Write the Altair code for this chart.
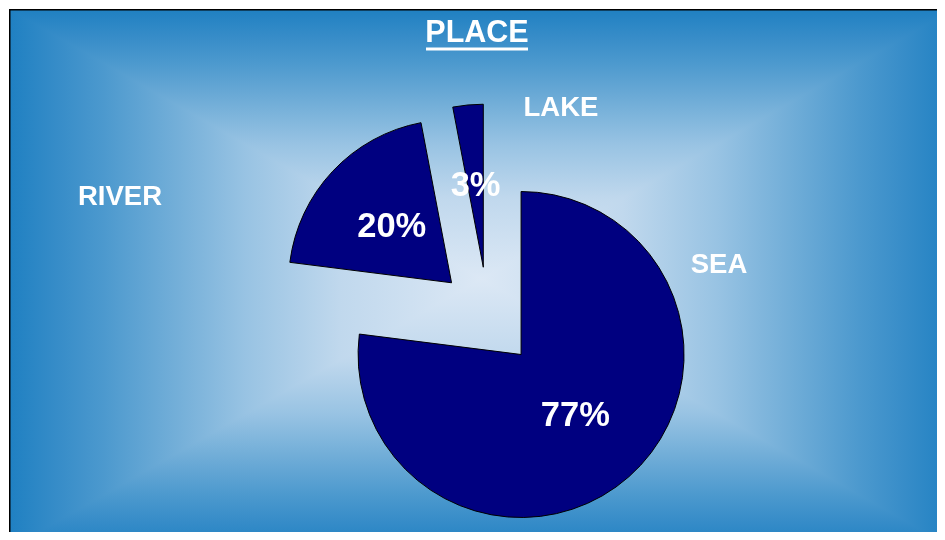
import altair as alt
import pandas as pd

# ---- data ----
categories = ["SEA", "RIVER", "LAKE"]
values = [77, 20, 3]
title_text = "PLACE"

# ---- style / layout ----
W, H = 929, 524
CX, CY = 479, 308          # pie centre before explosion (px)
R = 163                    # pie radius
EXPLODE = 50               # explosion distance
PCT_R = 82                 # radius of percentage labels
FONT = "Liberation Sans"
label_offsets = {"SEA": (231, -52), "RIVER": (-368, -120), "LAKE": (73, -209)}

CENTER = (220, 232, 245)
EDGE = (31, 128, 194)
alpha_stops = [(0.0, 1.0), (0.05, 0.88), (0.1, 0.76), (0.175, 0.56),
               (0.25, 0.36), (0.35, 0.15), (0.5, 0.0)]


def mix(a):
    r, g, b = (round(c0 + a * (e - c0)) for c0, e in zip(CENTER, EDGE))
    return f"rgb({r},{g},{b})"


stops = [{"offset": o, "color": mix(a)} for o, a in alpha_stops]
stops += [{"offset": 1 - o, "color": mix(a)} for o, a in reversed(alpha_stops[:-1])]

grad_h = {"gradient": "linear", "x1": 0, "y1": 0, "x2": 1, "y2": 0, "stops": stops}
grad_v = {"gradient": "linear", "x1": 0, "y1": 0, "x2": 0, "y2": 1, "stops": stops}

df = pd.DataFrame({
    "category": categories,
    "value": values,
    "idx": list(range(len(categories))),
    "ldx": [label_offsets[c][0] for c in categories],
    "ldy": [label_offsets[c][1] for c in categories],
})

one = pd.DataFrame({"t": [title_text]})

bg_h = alt.Chart(one).mark_rect(fill=grad_h).encode(
    x=alt.value(0), x2=alt.value(W + 16), y=alt.value(0), y2=alt.value(H + 16))
bg_v = alt.Chart(one).mark_rect(fill=grad_v, blend="darken").encode(
    x=alt.value(0), x2=alt.value(W + 16), y=alt.value(0), y2=alt.value(H + 16))

border_top = alt.Chart(one).mark_rule(color="black", strokeWidth=1.5).encode(
    x=alt.value(0), x2=alt.value(W), y=alt.value(0.75))
border_left = alt.Chart(one).mark_rule(color="black", strokeWidth=1.5).encode(
    x=alt.value(0.75), y=alt.value(0), y2=alt.value(H))

base = (
    alt.Chart(df)
    .transform_joinaggregate(total="sum(value)")
    .transform_window(cum="sum(value)", sort=[alt.SortField("idx", order="ascending")])
    .transform_calculate(t0="(datum.cum - datum.value) / datum.total * 2 * PI")
    .transform_calculate(t1="datum.cum / datum.total * 2 * PI")
    .transform_calculate(mid="(datum.t0 + datum.t1) / 2")
    .transform_calculate(ex=f"{CX} + {EXPLODE} * sin(datum.mid)")
    .transform_calculate(ey=f"{CY} - {EXPLODE} * cos(datum.mid)")
    .transform_calculate(px=f"datum.ex + {PCT_R} * sin(datum.mid)")
    .transform_calculate(py=f"datum.ey - {PCT_R} * cos(datum.mid)")
    .transform_calculate(pct="datum.value + '%'")
    .transform_calculate(lx=f"{CX} + datum.ldx")
    .transform_calculate(ly=f"{CY} + datum.ldy")
)

arcs = base.mark_arc(radius=R, fill="#000080", stroke="black", strokeWidth=1).encode(
    theta=alt.Theta("t0:Q", scale=None),
    theta2="t1:Q",
    x=alt.X("ex:Q", scale=None),
    y=alt.Y("ey:Q", scale=None),
)

pct = base.mark_text(font=FONT, fontSize=34.5, fontWeight="bold", color="white",
                     align="center", baseline="middle").encode(
    x=alt.X("px:Q", scale=None), y=alt.Y("py:Q", scale=None), text="pct:N")

labels = base.mark_text(font=FONT, fontSize=27.5, fontWeight="bold", color="white",
                        align="center", baseline="middle").encode(
    x=alt.X("lx:Q", scale=None), y=alt.Y("ly:Q", scale=None), text="category:N")

title = alt.Chart(one).mark_text(font=FONT, fontSize=30.5, fontWeight="bold", color="white",
                                 align="center", baseline="alphabetic").encode(
    x=alt.value(468), y=alt.value(33), text="t:N")

underline = alt.Chart(one).mark_rule(color="white", strokeWidth=3).encode(
    x=alt.value(417), x2=alt.value(519), y=alt.value(40))

chart = (
    alt.layer(bg_h, bg_v, arcs, pct, labels, title, underline, border_top, border_left)
    .properties(width=W, height=H, padding=0,
                autosize=alt.AutoSizeParams(type="fit", contains="padding"))
    .configure_view(stroke=None)
)

chart.save("out.html", embed_options={"renderer": "svg", "actions": False})
